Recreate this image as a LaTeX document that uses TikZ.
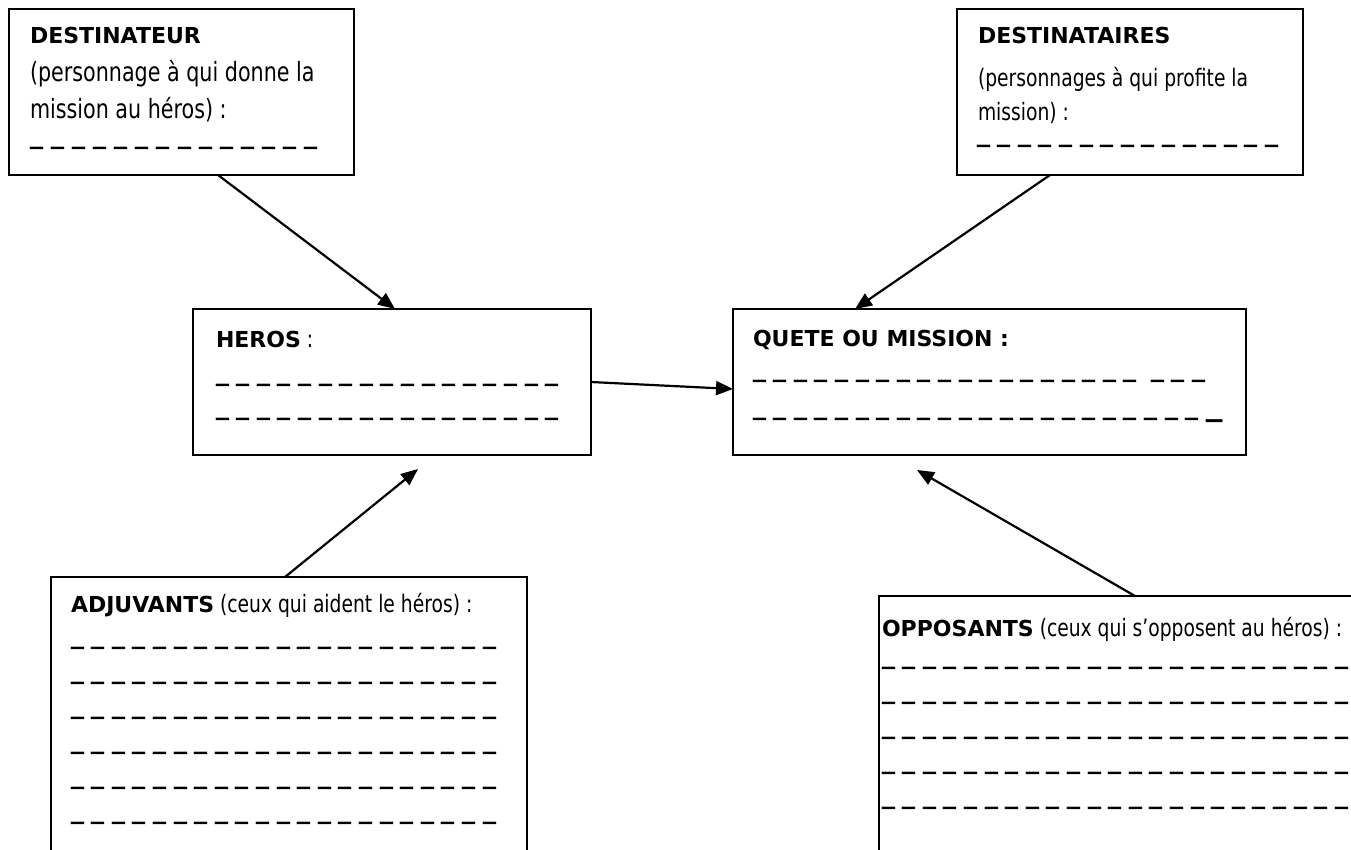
\documentclass[tikz,border=0pt]{standalone}
\usepackage{fontspec}
\setmainfont{DejaVu Sans}
\newfontfamily\widef{DejaVu Sans}
\newfontfamily\narrowf{DejaVu Sans}[FakeStretch=0.78]
\usetikzlibrary{arrows.meta,calc}
\newlength\dpitch
\setlength\dpitch{20.6pt}
\newcommand\dsh{\makebox[\dpitch][l]{\scalebox{1.2}[1.6]{\_}}}
\newcommand\longdsh{\makebox[16pt][l]{\scalebox{1.5}[2]{\_}}}
\newcommand\dashrow[1]{\foreach\k in {1,...,#1}{\dsh}}
\newcommand\ttl{\widef\bfseries\fontsize{22}{26}\selectfont}
\newcommand\bdy{\narrowf\mdseries\fontsize{24}{28}\selectfont}
\newcommand\bdyw{\narrowf\mdseries\fontsize{26.5}{30}\selectfont}
\newcommand\dfont{\widef\mdseries\fontsize{21.5}{26}\selectfont}
\begin{document}
\begin{tikzpicture}[x=1pt,y=-1pt,
  box/.style={draw, line width=2pt, anchor=north west, inner sep=0pt, outer sep=0pt},
  txt/.style={anchor=base west, inner sep=0pt, outer sep=0pt},
  arr/.style={line width=2.2pt, -{Triangle[length=17pt,width=14pt]}}]
\useasboundingbox (0,0) rectangle (1351,850);
\clip (0,0) rectangle (1351,850);
\fill[white] (0,0) rectangle (1351,850);

% boxes
\node[box, minimum width=345pt, minimum height=166pt] (dest) at (9,9) {};
\node[box, minimum width=346pt, minimum height=166pt] (dtaires) at (957,9) {};
\node[box, minimum width=398pt, minimum height=146pt] (heros) at (193,309) {};
\node[box, minimum width=513pt, minimum height=146pt] (quete) at (733,309) {};
\node[box, minimum width=476pt, minimum height=320pt] (adj) at (51,577) {};
\node[box, minimum width=520pt, minimum height=320pt] (opp) at (879,596) {};

% DESTINATEUR
\node[txt] (destT) at (30,44) {\ttl DESTINATEUR};
\node[txt] (destA) at (30,82) {\bdyw (personnage à qui donne la};
\node[txt] (destB) at (30,119) {\bdyw mission au héros) :};
\node[txt] (destD) at (30,142) {\setlength\dpitch{21.15pt}\dfont\dashrow{14}};

% DESTINATAIRES
\node[txt] (dtT) at (978,44) {\ttl DESTINATAIRES};
\node[txt] (dtA) at (978,87) {\bdy (personnages à qui profite la};
\node[txt] (dtB) at (978,121) {\bdy mission) :};
\node[txt] (dtD) at (977,140) {\dfont\dashrow{15}};

% HEROS
\node[txt] (heT) at (216,347) {\ttl HEROS\bdy\ :};
\node[txt] (heD1) at (216,378) {\dfont\dashrow{17}};
\node[txt] (heD2) at (216,412) {\dfont\dashrow{17}};

% QUETE
\node[txt] (quT) at (753,346) {\ttl QUETE OU MISSION :};
\node[txt] (quD1) at (753,374) {\dfont\dashrow{19}};
\node[txt] (quD1b) at (1151,374) {\dfont\dashrow{3}};
\node[txt] (quD2) at (753,412) {\dfont\dashrow{22}\longdsh};

% ADJUVANTS
\node[txt] (adT) at (71,612) {\ttl ADJUVANTS\bdy\ (ceux qui aident le héros) :};
\foreach \yy/\nm in {641/a,676/b,711/c,746/d,781/e,816/f}
  \node[txt] (adD\nm) at (71,\yy) {\dfont\dashrow{21}};

% OPPOSANTS
\node[txt] (opT) at (882,636) {\ttl OPPOSANTS\bdy\ (ceux qui s’opposent au héros) :};
\foreach \yy/\nm in {661/a,696/b,731/c,766/d,801/e}
  \node[txt] (opD\nm) at (882,\yy) {\dfont\dashrow{24}};

% connectors
\coordinate (adjTip) at (418,469);
\coordinate (oppTip) at (917,470);
\draw[arr] ($(dest.south west)+(209,0)$) -- ($(heros.north west)+(202,0)$);
\draw[arr] ($(dtaires.south west)+(93,0)$) -- ($(quete.north west)+(122,0)$);
\draw[arr] ($(heros.north east)+(0,73)$) -- ($(quete.north west)+(0,80)$);
\draw[arr] ($(adj.north west)+(234,0)$) -- (adjTip);
\draw[arr] ($(opp.north west)+(256,0)$) -- (oppTip);
\end{tikzpicture}
\end{document}
